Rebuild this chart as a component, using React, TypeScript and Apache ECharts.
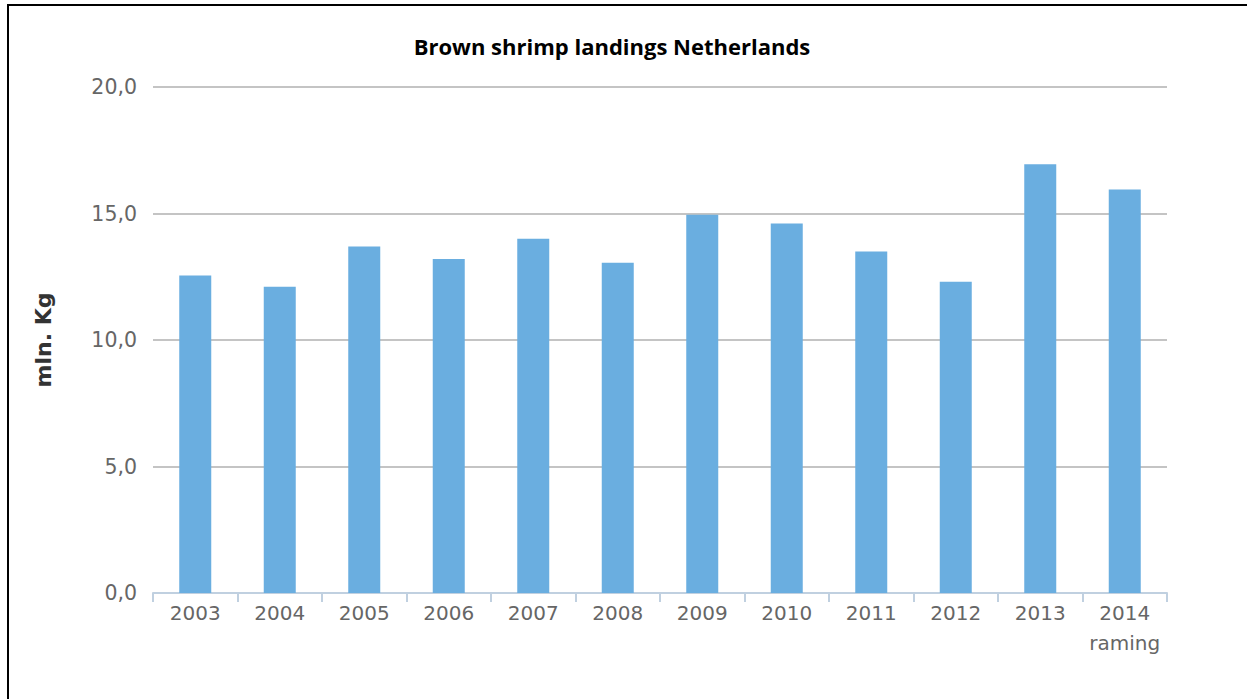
import React, { useEffect, useRef } from "react";
import * as echarts from "echarts";

const categories = ["2003", "2004", "2005", "2006", "2007", "2008", "2009", "2010", "2011", "2012", "2013", "2014\nraming"];
const landings = [12.55, 12.1, 13.7, 13.2, 14.0, 13.05, 14.95, 14.6, 13.5, 12.3, 16.95, 15.95];
const yTicks = { min: 0, max: 20, interval: 5 };
const titleText = "Brown shrimp landings Netherlands";
const yName = "mln. Kg";

export default function App() {
  const ref = useRef<HTMLDivElement>(null);
  useEffect(() => {
    if (!ref.current) return;
    const chart = echarts.init(ref.current, null, { renderer: "svg" });
    chart.setOption({
      animation: false,
      backgroundColor: "#ffffff",
      grid: { left: 153, right: 80, top: 87, bottom: 106, containLabel: false },
      graphic: [
        {
          type: "rect",
          shape: { x: 8, y: 5, width: 1400, height: 900 },
          style: { fill: "none", stroke: "#000000", lineWidth: 2 },
          silent: true,
        },
        {
          type: "text",
          x: 612,
          y: 46,
          style: {
            text: titleText,
            fill: "#000000",
            font: "bold 22px 'Open Sans', sans-serif",
            textAlign: "center",
            textVerticalAlign: "middle",
          },
        },
      ],
      xAxis: {
        type: "category",
        data: categories,
        axisLine: { show: true, lineStyle: { color: "#c0d0e0", width: 2 } },
        axisTick: { show: true, length: 9, lineStyle: { color: "#c0d0e0", width: 2 } },
        axisLabel: {
          color: "#666666",
          fontSize: 20,
          fontFamily: "'DejaVu Sans', sans-serif",
          lineHeight: 30,
          margin: 5,
          interval: 0,
        },
        splitLine: { show: false },
      },
      yAxis: {
        type: "value",
        min: yTicks.min,
        max: yTicks.max,
        interval: yTicks.interval,
        name: yName,
        nameLocation: "middle",
        nameGap: 99,
        nameRotate: 90,
        nameTextStyle: {
          color: "#333333",
          fontSize: 22,
          fontWeight: "bold",
          fontFamily: "'DejaVu Sans', sans-serif",
        },
        axisLine: { show: false },
        axisTick: { show: false },
        axisLabel: {
          color: "#666666",
          fontSize: 20.5,
          fontFamily: "'DejaVu Sans', sans-serif",
          margin: 16,
          formatter: (v: number) => v.toFixed(1).replace(".", ","),
        },
        splitLine: { show: true, lineStyle: { color: "#c4c4c4", width: 2 } },
      },
      series: [
        {
          type: "bar",
          data: landings,
          barWidth: 32,
          itemStyle: { color: "#6aaee0" },
        },
      ],
    });
    return () => chart.dispose();
  }, []);
  return (
    <div
      ref={ref}
      style={{ position: "fixed", left: 0, top: 0, width: 1247, height: 699 }}
    />
  );
}
